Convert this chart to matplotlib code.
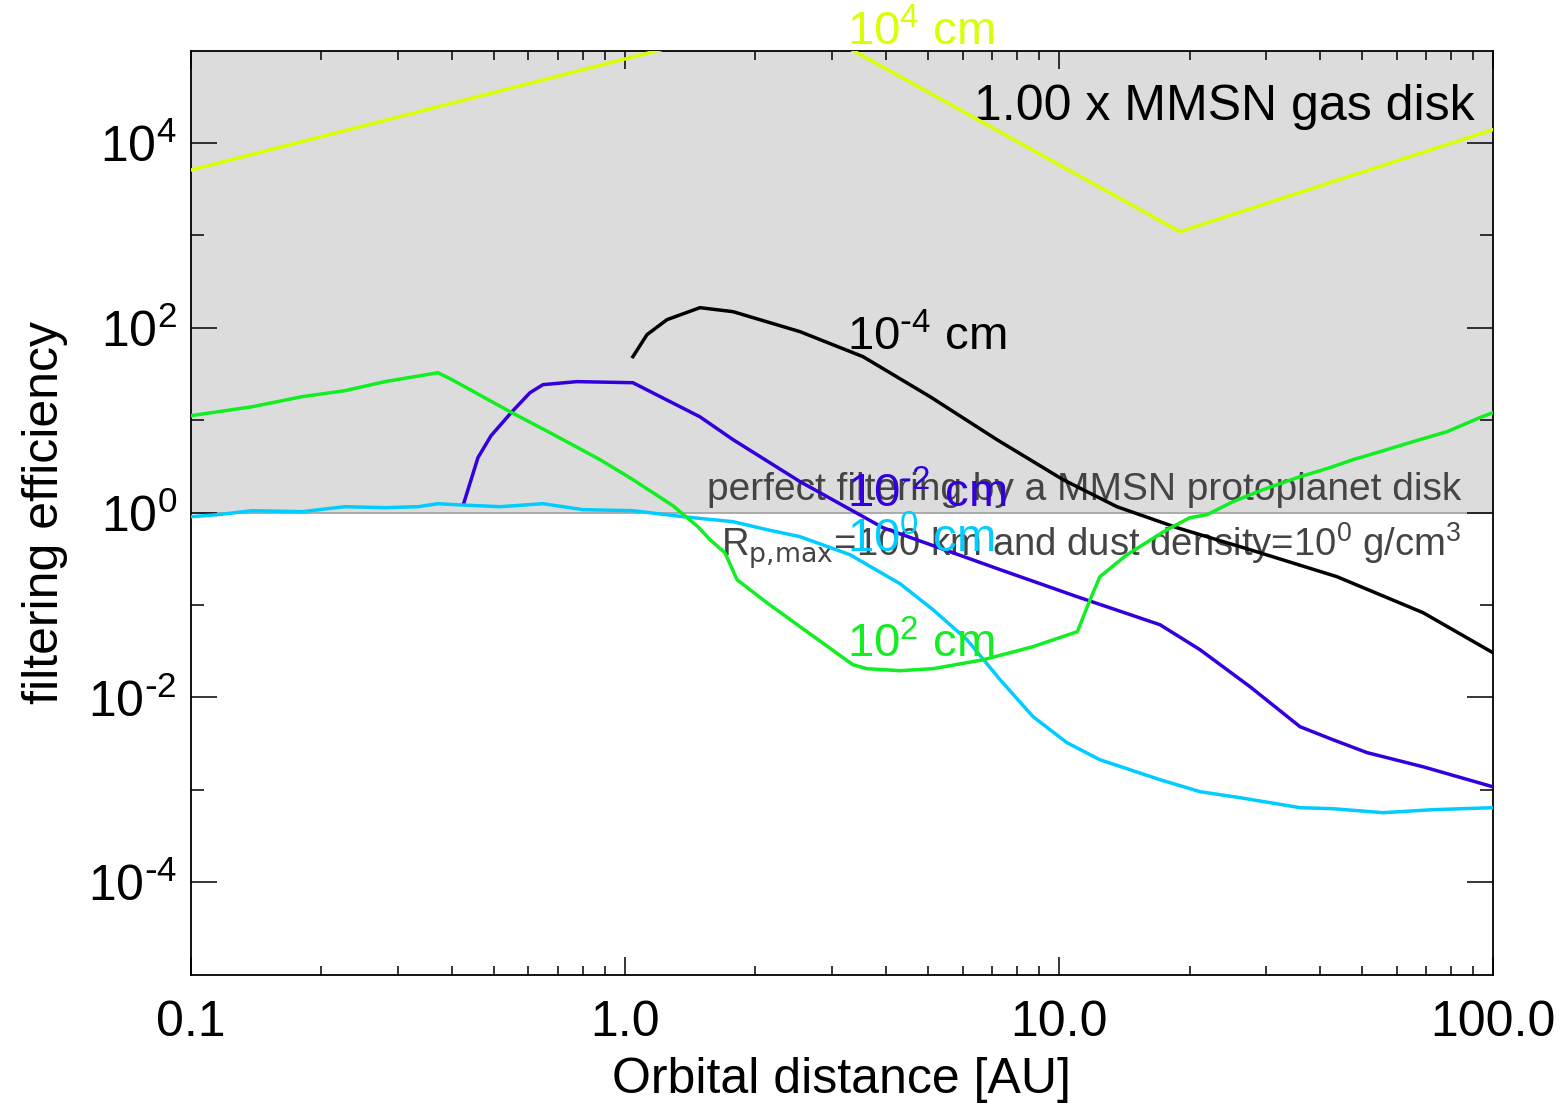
import matplotlib
matplotlib.use('Agg')
import matplotlib.pyplot as plt
from matplotlib.ticker import FixedLocator, NullFormatter

# data (orbital distance in AU, filtering efficiency)
x_1e4 = [0.1, 2.42, 19.0, 100.0]
y_1e4 = [5100, 2.35e5, 1100, 14000]

x_1em4 = [1.044, 1.125, 1.251, 1.490, 1.776, 2.533, 3.538, 5.05, 7.20, 10.22,
          13.61, 18.71, 27.55, 43.7, 69.0, 100.0]
y_1em4 = [48.8, 84.4, 122.7, 165.4, 149.7, 91.0, 48.8, 18.0, 6.17, 2.28,
          1.16, 0.688, 0.398, 0.203, 0.0828, 0.0305]

x_1em2 = [0.426, 0.459, 0.492, 0.550, 0.605, 0.648, 0.776, 1.044, 1.490, 1.776,
          2.533, 3.934, 7.32, 11.03, 17.10, 21.14, 27.55, 35.93, 42.8, 51.3,
          69.0, 100.0]
y_1em2 = [1.28, 3.94, 6.81, 12.4, 19.9, 24.3, 26.2, 25.5, 10.9, 6.17,
          2.17, 0.688, 0.242, 0.123, 0.0613, 0.0329, 0.0131, 0.00483, 0.00349,
          0.00253, 0.00178, 0.00108]

x_1e0 = [0.1, 0.1156, 0.1384, 0.1805, 0.2266, 0.2803, 0.3340, 0.3713, 0.4063,
         0.5160, 0.648, 0.801, 1.044, 1.362, 1.776, 2.126, 2.533, 3.302, 4.305,
         5.13, 6.14, 7.32, 8.72, 10.44, 12.43, 17.10, 21.14, 26.14, 35.93, 42.8,
         55.8, 72.7, 100.0]
y_1e0 = [0.905, 0.951, 1.051, 1.025, 1.161, 1.133, 1.161, 1.251, 1.221,
         1.161, 1.251, 1.078, 1.051, 0.905, 0.799, 0.655, 0.550, 0.351, 0.1705,
         0.0891, 0.0423, 0.0156, 0.00620, 0.00324, 0.00212, 0.00129, 0.000957,
         0.000824, 0.000642, 0.000626, 0.000567, 0.000611, 0.000642]

x_1e2 = [0.1, 0.1384, 0.1805, 0.2266, 0.2803, 0.3713, 0.3999, 0.5438, 0.6727,
         0.877, 1.044, 1.291, 1.474, 1.572, 1.701, 1.814, 2.126, 2.533, 3.355,
         3.613, 4.305, 5.13, 6.69, 8.72, 11.03, 11.80, 12.43, 14.35, 17.74,
         20.04, 21.94, 25.18, 29.53, 35.36, 42.1, 47.6, 54.9, 65.4, 78.4,
         93.3, 100.0]
y_1e2 = [11.2, 14.0, 18.0, 20.9, 26.2, 32.7, 27.5, 12.4, 7.34, 3.75, 2.28,
         1.19, 0.705, 0.509, 0.369, 0.188, 0.106, 0.0584, 0.0226, 0.0205,
         0.0195, 0.0205, 0.0256, 0.0355, 0.0516, 0.1144, 0.203, 0.351, 0.655,
         0.883, 0.951, 1.315, 1.774, 2.39, 3.07, 3.75, 4.57, 5.87, 7.53, 10.7,
         12.1]

label_x = 3.25
label_y = [1.13e5, 56.6, 1.13, 0.369, 0.027]
label_txt = [r'10$^{4}$ cm', r'10$^{\text{-}4}$ cm', r'10$^{\text{-}2}$ cm',
             r'10$^{0}$ cm', r'10$^{2}$ cm']

ytick_vals = [1e-4, 1e-2, 1, 1e2, 1e4]
ytick_txt = [r'10$^{\text{-}4}$', r'10$^{\text{-}2}$', r'10$^{0}$', r'10$^{2}$', r'10$^{4}$']
xtick_vals = [0.1, 1, 10, 100]
xtick_txt = ['0.1', '1.0', '10.0', '100.0']

yellow = '#dcff00'
black = 'black'
blue = '#3300dd'
cyan = '#00ccff'
green = '#11ee22'

plt.rcParams['font.family'] = ['Liberation Sans', 'DejaVu Sans']
plt.rcParams['mathtext.default'] = 'regular'

fig = plt.figure(figsize=(15.64, 11.06), dpi=100)
ax = fig.add_axes([0.1219, 0.1187, 0.8327, 0.8355])

ax.axhspan(1, 1e5, color='#dcdcdc', zorder=0, lw=0)
ax.axhline(1, color='#a0a0a0', lw=1.2, zorder=1)

ax.text(0.986, 0.925, '1.00 x MMSN gas disk', transform=ax.transAxes,
        ha='right', va='baseline', fontsize=36, color='black')
ax.text(0.976, 0.514, 'perfect filtering by a MMSN protoplanet disk',
        transform=ax.transAxes, ha='right', va='baseline', fontsize=28, color='#444444')
ax.text(0.976, 0.452, r'R$_{\text{p,max}}$=100 km and dust density=10$^{0}$ g/cm$^{3}$',
        transform=ax.transAxes, ha='right', va='baseline', fontsize=27.5, color='#444444')

lw = 2.5
ax.plot(x_1e4, y_1e4, color=yellow, lw=lw, zorder=3)
ax.plot(x_1em4, y_1em4, color=black, lw=lw, zorder=3)
ax.plot(x_1em2, y_1em2, color=blue, lw=lw, zorder=3)
ax.plot(x_1e0, y_1e0, color=cyan, lw=lw, zorder=3)
ax.plot(x_1e2, y_1e2, color=green, lw=lw, zorder=3)

for yy, txt, c in zip(label_y, label_txt, [yellow, black, blue, cyan, green]):
    ax.text(label_x, yy, txt, color=c, fontsize=34, ha='left', va='baseline',
            zorder=4, clip_on=False)

ax.set_xscale('log')
ax.set_yscale('log')
ax.set_xlim(0.1, 100)
ax.set_ylim(1e-5, 1e5)

ax.xaxis.set_major_locator(FixedLocator(xtick_vals))
ax.set_xticklabels(xtick_txt)
ax.xaxis.set_minor_locator(FixedLocator([m * 10.0 ** e for e in (-1, 0, 1) for m in range(2, 10)]))
ax.xaxis.set_minor_formatter(NullFormatter())

ax.yaxis.set_major_locator(FixedLocator(ytick_vals))
ax.set_yticklabels(ytick_txt)
ax.yaxis.set_minor_locator(FixedLocator([1e-3, 1e-1, 10, 1e3]))
ax.yaxis.set_minor_formatter(NullFormatter())

ax.tick_params(which='both', direction='in', top=True, right=True, width=1.1)
ax.tick_params(axis='x', which='major', length=13.3, pad=18, labelsize=36)
ax.tick_params(axis='x', which='minor', length=6.7)
ax.tick_params(axis='y', which='major', length=18.8, pad=10, labelsize=36)
ax.tick_params(axis='y', which='minor', length=9.4)
for s in ax.spines.values():
    s.set_linewidth(1.3)

ax.set_xlabel('Orbital distance [AU]', fontsize=36, labelpad=8)
ax.set_ylabel('filtering efficiency', fontsize=36, labelpad=14)

plt.savefig('out.png', dpi=100)
